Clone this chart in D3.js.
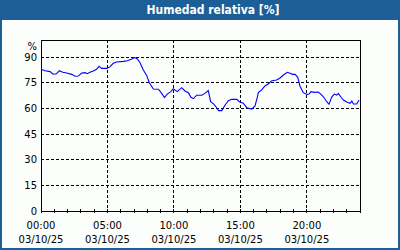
<!DOCTYPE html>
<html>
<head>
<meta charset="utf-8">
<script src="https://cdn.jsdelivr.net/npm/d3@7"></script>
<style>
    body { margin: 0; background: #fcfefc; }
    svg { display: block; }
    text { font-family: "DejaVu Sans", sans-serif; }
</style>
</head>
<body>
<svg id="chart"></svg>
<script>
// Data (03/10/25, relative humidity in %)
const day = "2025-10-03";
const times = [
    "00:00", "00:18", "00:41", "00:53", "01:08", "01:23", "01:38", "01:56", "02:19", "02:34",
    "02:48", "03:04", "03:19", "03:29", "03:41", "03:56", "04:11", "04:22", "04:34", "04:57",
    "05:12", "05:26", "05:42", "06:12", "06:30", "06:50", "07:04", "07:15", "07:27", "07:42",
    "07:57", "08:09", "08:27", "08:50", "09:05", "09:17", "09:30", "09:46", "09:57", "10:15",
    "10:35", "10:50", "11:05", "11:17", "11:28", "11:43", "12:06", "12:20", "12:35", "12:46",
    "13:01", "13:13", "13:22", "13:36", "13:51", "14:06", "14:21", "14:44", "14:55", "15:13",
    "15:29", "15:51", "16:06", "16:17", "16:21", "16:36", "16:51", "17:06", "17:22", "17:44",
    "17:59", "18:14", "18:32", "18:44", "18:55", "19:07", "19:19", "19:29", "19:44", "20:00",
    "20:10", "20:19", "20:34", "20:52", "21:04", "21:15", "21:30", "21:40", "21:53", "22:04",
    "22:15", "22:22", "22:35", "22:45", "23:00", "23:15", "23:23", "23:30", "23:45", "23:56",
];
const humidity = [
    82.9, 82.0, 81.5, 80.1, 80.1, 82.0, 81.1, 80.7, 79.9, 78.8,
    78.9, 80.7, 80.9, 80.3, 81.1, 81.9, 82.9, 84.6, 83.4, 83.4,
    84.4, 86.4, 87.1, 87.5, 87.9, 88.9, 89.7, 88.9, 86.7, 82.5,
    79.3, 75.0, 71.3, 71.2, 68.8, 66.3, 68.4, 69.8, 71.5, 69.8,
    72.1, 70.2, 69.2, 66.5, 65.7, 67.7, 67.7, 68.8, 70.4, 63.9,
    62.4, 60.4, 58.7, 58.7, 62.0, 64.5, 65.3, 65.3, 63.9, 63.0,
    60.4, 59.6, 61.4, 66.8, 69.2, 70.8, 73.1, 74.3, 76.2, 76.6,
    77.8, 79.5, 81.1, 80.5, 79.9, 79.9, 78.2, 73.1, 69.2, 68.2,
    68.4, 69.8, 69.4, 69.6, 68.2, 66.8, 63.9, 62.4, 66.8, 68.4,
    67.8, 68.8, 66.5, 64.9, 63.7, 63.0, 64.3, 62.6, 62.6, 64.9,
];
const yTicks = [0, 15, 30, 45, 60, 75, 90];
const xTickTimes = ["00:00", "05:00", "10:00", "15:00", "20:00"];
const dateLabel = "03/10/25";
const title = "Humedad relativa [%]";

const W = 400, H = 250;
const plot = { left: 41, right: 360, top: 40, bottom: 211 };

const parse = d3.timeParse("%Y-%m-%d %H:%M");
const t0 = parse(day + " 00:00");
const t1 = d3.timeDay.offset(t0, 1);
const data = times.map((t, i) => ({ date: parse(day + " " + t), value: humidity[i] }));

const svg = d3.select("#chart").attr("width", W).attr("height", H);

const x = d3.scaleTime().domain([t0, t1]).range([plot.left, plot.right]);
const y = d3.scaleLinear().domain([0, 100]).range([plot.bottom, plot.top]);

// Frame around the whole picture
const blue = "#1c5e96";
svg.append("rect").attr("width", W).attr("height", H).attr("fill", "#fcfefc");
svg.append("rect").attr("width", W).attr("height", 20).attr("fill", blue);
svg.append("rect").attr("x", 0).attr("y", 0).attr("width", 2).attr("height", H).attr("fill", blue);
svg.append("rect").attr("x", W - 2).attr("y", 0).attr("width", 2).attr("height", H).attr("fill", blue);
svg.append("rect").attr("x", 0).attr("y", H - 2).attr("width", W).attr("height", 2).attr("fill", blue);

svg.append("text")
    .attr("x", 213).attr("y", 14)
    .attr("text-anchor", "middle")
    .attr("fill", "#fff")
    .style("font-family", "'DejaVu Sans Condensed', 'DejaVu Sans', sans-serif")
    .style("font-weight", "bold")
    .style("font-size", "12px")
    .text(title);

// Grid
const grid = svg.append("g")
    .attr("stroke", "#000")
    .attr("stroke-width", 1)
    .attr("stroke-dasharray", "3,2")
    .attr("shape-rendering", "crispEdges");

grid.selectAll("line.h").data(yTicks.filter((d) => d > 0)).join("line")
    .attr("x1", plot.left).attr("x2", plot.right)
    .attr("y1", (d) => y(d)).attr("y2", (d) => y(d));

grid.selectAll("line.v").data(xTickTimes.slice(1)).join("line")
    .attr("x1", (d) => x(parse(day + " " + d))).attr("x2", (d) => x(parse(day + " " + d)))
    .attr("y1", plot.top).attr("y2", plot.bottom);

// Hour ticks on the bottom axis
svg.append("g")
    .attr("stroke", "#000")
    .attr("shape-rendering", "crispEdges")
    .selectAll("line")
    .data(d3.timeHour.range(t0, d3.timeHour.offset(t1, 1)))
    .join("line")
    .attr("x1", (d) => x(d)).attr("x2", (d) => x(d))
    .attr("y1", plot.bottom - 2).attr("y2", plot.bottom + 2);

// Plot frame
svg.append("rect")
    .attr("x", plot.left).attr("y", plot.top)
    .attr("width", plot.right - plot.left).attr("height", plot.bottom - plot.top)
    .attr("fill", "none")
    .attr("stroke", "#000")
    .attr("shape-rendering", "crispEdges");

// Humidity line
const line = d3.line().x((d) => x(d.date)).y((d) => y(d.value));
svg.append("path")
    .datum(data)
    .attr("d", line)
    .attr("fill", "none")
    .attr("stroke", "#0000ff")
    .attr("stroke-width", 1.1);

// Y labels
svg.append("g").selectAll("text").data(yTicks).join("text")
    .attr("x", 37).attr("y", (d) => y(d))
    .attr("dy", "0.35em")
    .attr("text-anchor", "end")
    .style("font-size", "10px")
    .text((d) => d);

svg.append("text")
    .attr("x", 37).attr("y", 46)
    .attr("dy", "0.35em")
    .attr("text-anchor", "end")
    .style("font-size", "10px")
    .text("%");

// X labels (time + date)
const xl = svg.append("g").selectAll("g").data(xTickTimes).join("g")
    .attr("transform", (d) => `translate(${x(parse(day + " " + d))},0)`);
xl.append("text").attr("y", 229).attr("text-anchor", "middle").style("font-size", "10px").text((d) => d);
xl.append("text").attr("y", 243).attr("text-anchor", "middle").style("font-size", "10px").text(dateLabel);
</script>
</body>
</html>
